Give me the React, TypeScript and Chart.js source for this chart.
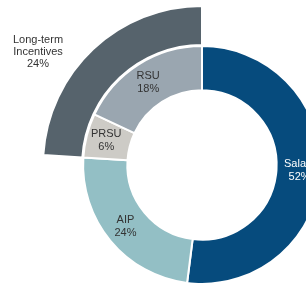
import React, { useEffect, useRef } from "react";
import { Chart, registerables } from "chart.js";

Chart.register(...registerables);

const innerLabels = ["Salary", "AIP", "PRSU", "RSU"];
const innerValues = [52, 24, 6, 18];
const innerColors = ["#064b7d", "#93bfc5", "#cdcbc6", "#9aa6b0"];

const outerLabels = ["Salary", "AIP", "Long-term Incentives"];
const outerValues = [52, 24, 24];
const outerColors = ["rgba(0,0,0,0)", "rgba(0,0,0,0)", "#56636c"];

const labelPlugin = {
  id: "sliceLabels",
  afterDatasetsDraw(chart: any) {
    const ctx = chart.ctx;
    ctx.save();
    ctx.font = "11px 'Liberation Sans', Arial, sans-serif";
    ctx.textAlign = "center";
    ctx.textBaseline = "middle";
    const innerMeta = chart.getDatasetMeta(2);
    innerMeta.data.forEach((arc: any, i: number) => {
      const p = arc.tooltipPosition();
      ctx.fillStyle = i === 0 ? "#ffffff" : "#333333";
      const dx = i === 0 ? 1 : -2;
      ctx.fillText(innerLabels[i], p.x + dx, p.y - 7);
      ctx.fillText(innerValues[i] + "%", p.x + dx, p.y + 6);
    });
    const outerMeta = chart.getDatasetMeta(0);
    const lti = outerMeta.data[2];
    if (lti) {
      const cx = lti.x;
      const cy = lti.y;
      ctx.fillStyle = "#333333";
      const x = cx - 164;
      const y = cy - 113;
      ctx.fillText("Long-term", x, y - 12);
      ctx.fillText("Incentives", x, y);
      ctx.fillText(outerValues[2] + "%", x, y + 12);
    }
    ctx.restore();
  },
};

export default function App() {
  const ref = useRef<HTMLCanvasElement | null>(null);
  useEffect(() => {
    if (!ref.current) return;
    const chart = new Chart(ref.current, {
      type: "doughnut",
      data: {
        labels: innerLabels,
        datasets: [
          {
            data: outerValues,
            backgroundColor: outerColors,
            borderColor: "#ffffff",
            borderWidth: [0, 0, 2],
            weight: 38,
          },
          {
            data: [100],
            backgroundColor: ["rgba(0,0,0,0)"],
            borderWidth: 0,
            weight: 1,
          },
          {
            data: innerValues,
            backgroundColor: innerColors,
            borderColor: "#ffffff",
            borderWidth: 2,
            weight: 43,
          },
        ],
      },
      options: {
        responsive: false,
        animation: false,
        radius: 159,
        cutout: 77,
        layout: { padding: 0 },
        plugins: {
          legend: { display: false },
          tooltip: { enabled: false },
          title: { display: false },
        },
      } as any,
      plugins: [labelPlugin],
    });
    return () => chart.destroy();
  }, []);
  return (
    <div
      style={{
        position: "fixed",
        left: 0,
        top: 0,
        width: 306,
        height: 286,
        overflow: "hidden",
        background: "#ffffff",
      }}
    >
      <canvas ref={ref} width={404} height={330} style={{ width: 404, height: 330, display: "block" }} />
    </div>
  );
}
